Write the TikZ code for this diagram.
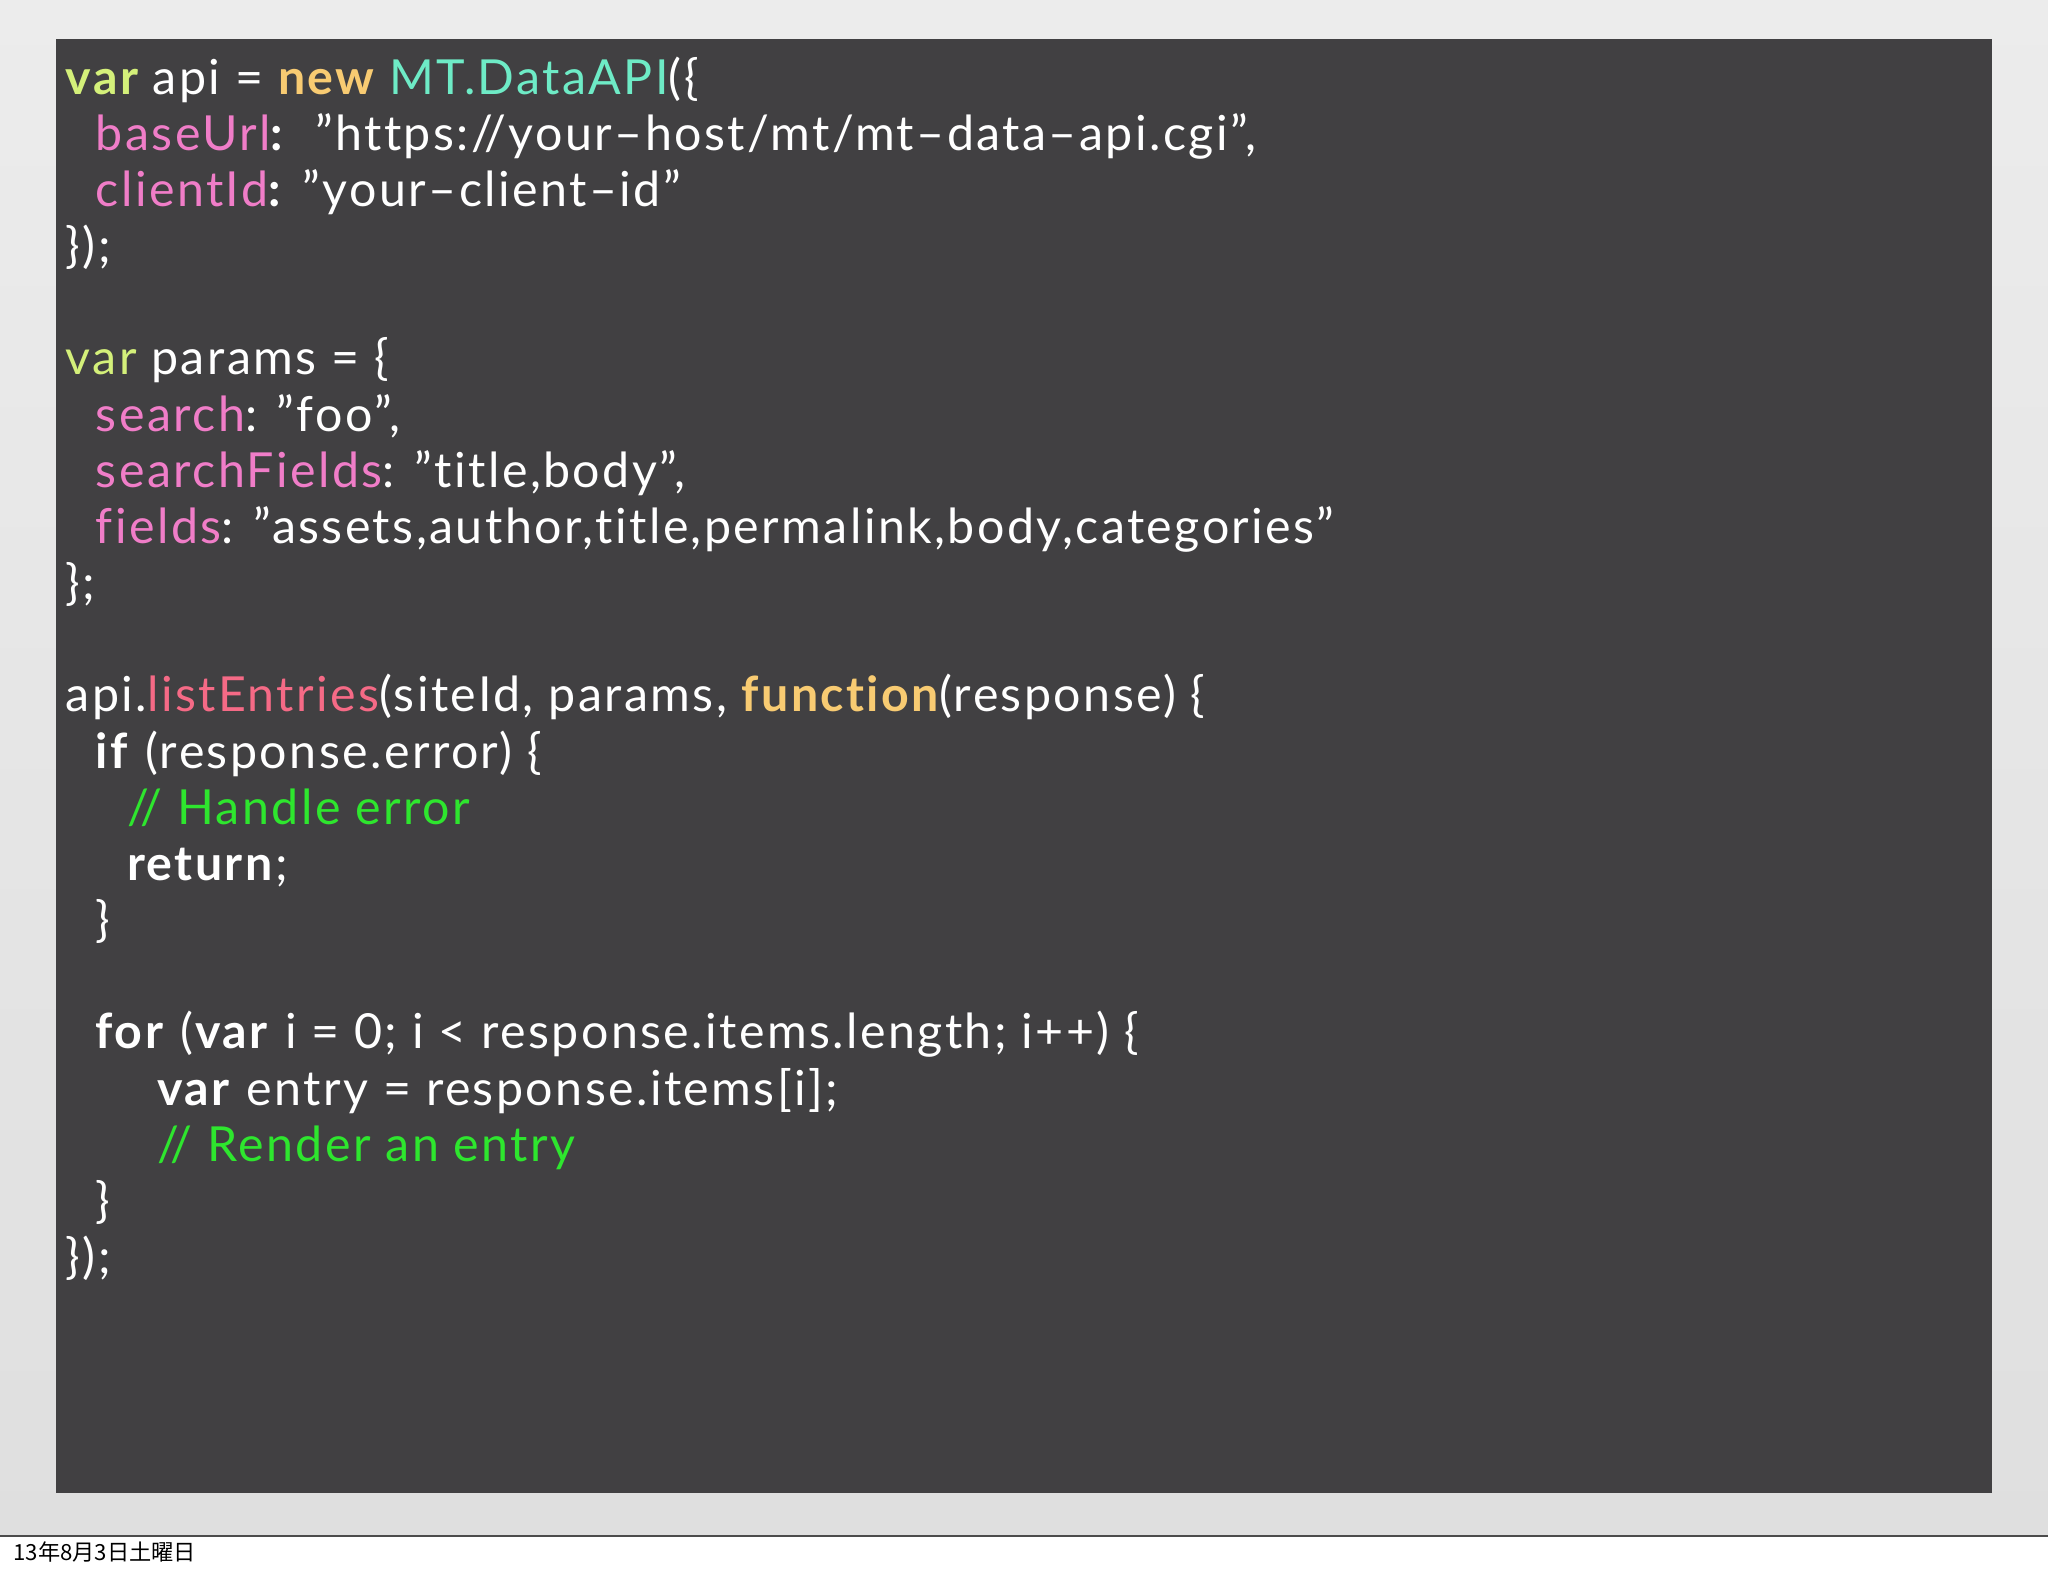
\documentclass[tikz,border=0pt]{standalone}
\usepackage{fontspec}
\setmainfont[LetterSpace=5,Ligatures=NoCommon]{Lato}
\newfontfamily\cjkf{Noto Sans CJK JP}
\definecolor{bgdark}{HTML}{414042}
\definecolor{kvar}{HTML}{D4F07A}
\definecolor{knew}{HTML}{F8CB72}
\definecolor{kcls}{HTML}{6EEBC6}
\definecolor{kprop}{HTML}{F07DC8}
\definecolor{kmeth}{HTML}{F56A86}
\definecolor{kcom}{HTML}{2EE62E}
\newcommand{\qq}{\symbol{34}}
\begin{document}
\begin{tikzpicture}[x=0.5pt,y=-0.5pt,
  code/.style={anchor=base west,inner sep=0pt,text=white,font=\fontsize{18.5}{21}\selectfont}]
\useasboundingbox (0,0) rectangle (1568,1206);
\shade[top color=gray!15, bottom color=gray!25] (0,0) rectangle (1568,1176);
\fill[white] (0,1176) rectangle (1568,1206);
\draw[black!70, line width=0.6pt] (0,1176) -- (1568,1176);
\fill[bgdark] (43,30) rectangle (1525,1143);
\node[anchor=base west,inner sep=0pt,font=\cjkf\fontsize{8.5}{10}\selectfont] (date) at (10,1195) {13年8月3日土曜日};
\node[code] (l1) at (50,72) {\textcolor{kvar}{\bfseries var} api = \textcolor{knew}{\bfseries new} \textcolor{kcls}{MT.DataAPI}(\{};
\node[code] (l2) at (73,115) {\textcolor{kprop}{baseUrl}\textbf{:}\ \ \qq https://your–host/mt/mt–data–api.cgi\qq,};
\node[code] (l3) at (73,158) {\textcolor{kprop}{clientId}\textbf{:} \qq your–client–id\qq};
\node[code] (l4) at (50,201) {\});};
\node[code] (l5) at (50,287) {\textcolor{kvar}{var} params = \{};
\node[code] (l6) at (73,330) {\textcolor{kprop}{search}: \qq foo\qq,};
\node[code] (l7) at (73,373) {\textcolor{kprop}{searchFields}: \qq title,body\qq,};
\node[code] (l8) at (73,416) {\textcolor{kprop}{fields}: \qq assets,author,title,permalink,body,categories\qq};
\node[code] (l9) at (50,459) {\};};
\node[code] (l10) at (50,545) {api.\textcolor{kmeth}{listEntries}(siteId, params, \textcolor{knew}{\bfseries function}(response) \{};
\node[code] (l11) at (73,588) {\textbf{if} (response.error) \{};
\node[code] (l12) at (97,631) {\textcolor{kcom}{// Handle error}};
\node[code] (l13) at (97,674) {\textbf{return};};
\node[code] (l14) at (73,717) {\}};
\node[code] (l15) at (73,803) {\textbf{for} (\textbf{var} i = 0; i < response.items.length; i++) \{};
\node[code] (l16) at (120,846) {\textbf{var} entry = response.items[i];};
\node[code] (l17) at (120,889) {\textcolor{kcom}{// Render an entry}};
\node[code] (l18) at (73,932) {\}};
\node[code] (l19) at (50,975) {\});};
\end{tikzpicture}
\end{document}
